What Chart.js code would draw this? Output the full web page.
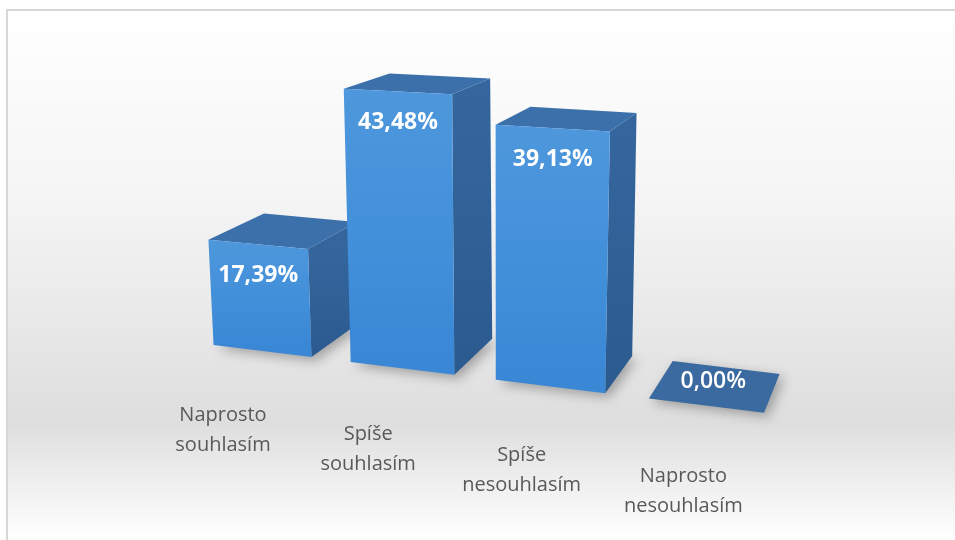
<!DOCTYPE html>
<html><head><meta charset="utf-8">
<script src="https://cdn.jsdelivr.net/npm/chart.js@4.4.1/dist/chart.umd.min.js"></script>
<style>html,body{margin:0;padding:0;background:#fff;overflow:hidden} canvas{display:block}</style>
</head><body>
<canvas id="c" width="955" height="540"></canvas>
<script>
// ---- data ----
const categories = [['Naprosto','souhlasím'],['Spíše','souhlasím'],['Spíše','nesouhlasím'],['Naprosto','nesouhlasím']];
const values = [17.39, 43.48, 39.13, 0.00];
const yMin = 0, yMax = 50;

function fmt(v){ return v.toFixed(2).replace('.', ',') + '%'; }

// ---- perspective (layout) constants ----
const PERSP = {
  warpK: 2.16e-4,      // horizontal perspective widening
  floorSlope: 0.123,   // floor line tilt
  floorRef: 400,
  hK: 0.000254,        // height growth toward the right
  vertVX: 500, vertK: 1.7e-4, // vertical edges convergence
  VX: 980, VY: -125, depth: 0.072 // depth vanishing point
};

function makeProj(ref, base){
  return function(px, hpx, d){
    const x0 = px + PERSP.warpK * (px - ref) * (px - ref);
    const yF = base + PERSP.floorSlope * (x0 - PERSP.floorRef);
    const h = hpx * (1 + PERSP.hK * (x0 - PERSP.floorRef));
    const xt = x0 + (x0 - PERSP.vertVX) * PERSP.vertK * h;
    const yt = yF - h;
    return [xt + d * PERSP.depth * (PERSP.VX - xt), yt + d * PERSP.depth * (PERSP.VY - yt)];
  };
}

function poly(ctx, pts){
  ctx.beginPath();
  ctx.moveTo(pts[0][0], pts[0][1]);
  for (let i = 1; i < pts.length; i++) ctx.lineTo(pts[i][0], pts[i][1]);
  ctx.closePath();
}

const bgPlugin = {
  id: 'bg',
  beforeDraw(chart){
    const ctx = chart.ctx;
    ctx.save();
    const g = ctx.createLinearGradient(0, 9, 0, 540);
    g.addColorStop(0, '#ffffff');
    g.addColorStop(0.35, '#f5f5f5');
    g.addColorStop(0.78, '#dedede');
    g.addColorStop(1, '#ffffff');
    ctx.fillStyle = '#ffffff';
    ctx.fillRect(0, 0, 955, 540);
    ctx.fillStyle = g;
    ctx.fillRect(6, 9, 955, 540);
    ctx.strokeStyle = '#d6d6d6';
    ctx.lineWidth = 2;
    ctx.beginPath();
    ctx.moveTo(7, 541); ctx.lineTo(7, 10); ctx.lineTo(956, 10);
    ctx.stroke();
    ctx.restore();
  }
};

const box3d = {
  id: 'box3d',
  afterDatasetsDraw(chart){
    const ctx = chart.ctx;
    const xs = chart.scales.x, ys = chart.scales.y;
    const ref = xs.getPixelForValue(0);
    const base = ys.getPixelForValue(0);
    const proj = makeProj(ref, base);
    const meta = chart.getDatasetMeta(0);
    const boxes = meta.data.map((el, i) => {
      const l = el.x - el.width / 2, r = el.x + el.width / 2;
      const hp = el.base - el.y;
      return {
        i, hp,
        FBL: proj(l, 0, 0), FBR: proj(r, 0, 0), FTL: proj(l, hp, 0), FTR: proj(r, hp, 0),
        BTL: proj(l, hp, 1), BTR: proj(r, hp, 1), BBR: proj(r, 0, 1), BBL: proj(l, 0, 1),
        C: proj(el.x, 0, 0)
      };
    });
    ctx.save();
    // floor shadows
    ctx.filter = 'blur(6px)';
    ctx.fillStyle = 'rgba(0,0,0,0.30)';
    boxes.forEach(b => {
      const s = [b.FBL, b.FBR, b.BBR, b.BBL].map(p => [p[0] + 4, p[1] + 4]);
      poly(ctx, s); ctx.fill();
    });
    ctx.filter = 'none';
    boxes.forEach(b => {
      if (b.hp > 0.5) {
        // side
        let g = ctx.createLinearGradient(0, b.FTR[1], 0, b.FBR[1]);
        g.addColorStop(0, '#34669d'); g.addColorStop(1, '#2b5a8f');
        ctx.fillStyle = g; poly(ctx, [b.FTR, b.BTR, b.BBR, b.FBR]); ctx.fill();
        // top
        ctx.fillStyle = '#3c70aa'; poly(ctx, [b.FTL, b.BTL, b.BTR, b.FTR]); ctx.fill();
        // front
        g = ctx.createLinearGradient(0, b.FTL[1], 0, b.FBL[1]);
        g.addColorStop(0, '#4e97dc'); g.addColorStop(0.5, '#4390da'); g.addColorStop(1, '#3a87d6');
        ctx.fillStyle = g; poly(ctx, [b.FTL, b.FTR, b.FBR, b.FBL]); ctx.fill();
      } else {
        ctx.fillStyle = '#3a6a9f'; poly(ctx, [b.FTL, b.BTL, b.BTR, b.FTR]); ctx.fill();
      }
    });
    // value labels
    ctx.fillStyle = '#ffffff';
    ctx.textAlign = 'center';
    ctx.textBaseline = 'middle';
    boxes.forEach(b => {
      const v = values[b.i];
      let x, y;
      if (b.hp > 0.5) {
        x = (b.FTL[0] + b.FTR[0]) / 2;
        y = (b.FTL[1] + b.FTR[1]) / 2 + 31;
        ctx.font = 'bold 23px "Open Sans"';
      } else {
        x = (b.FTL[0] + b.FTR[0] + b.BTL[0] + b.BTR[0]) / 4 - 3;
        y = (b.FTL[1] + b.FTR[1] + b.BTL[1] + b.BTR[1]) / 4 - 5;
        ctx.font = '600 23px "Open Sans"';
      }
      ctx.fillText(fmt(v), x, y);
    });
    // category labels on the floor in front of each bar
    ctx.fillStyle = '#595959';
    ctx.font = '20px "Open Sans"';
    boxes.forEach(b => {
      const lines = chart.data.labels[b.i];
      const cx = b.C[0] - 39 + 0.037 * (b.C[0] - ref);
      const cy = b.C[1] + 64 + 0.016 * (b.C[0] - ref);
      lines.forEach((t, k) => ctx.fillText(t, cx, cy + k * 30));
    });
    ctx.restore();
  }
};

new Chart(document.getElementById('c'), {
  type: 'bar',
  data: {
    labels: categories,
    datasets: [{
      data: values,
      backgroundColor: 'rgba(0,0,0,0)',
      borderWidth: 0,
      barPercentage: 0.72,
      categoryPercentage: 1
    }]
  },
  options: {
    responsive: false,
    devicePixelRatio: 1,
    animation: false,
    layout: { padding: { left: 194, right: 217, top: 50, bottom: 172 } },
    plugins: { legend: { display: false }, tooltip: { enabled: false } },
    scales: {
      x: { display: false },
      y: { display: false, min: yMin, max: yMax }
    }
  },
  plugins: [bgPlugin, box3d]
});
</script>
</body></html>
